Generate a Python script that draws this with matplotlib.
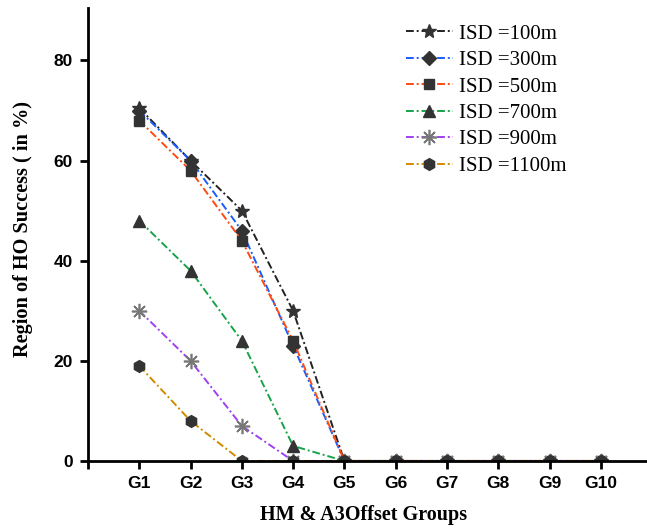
import matplotlib
matplotlib.use("Agg")
import matplotlib.pyplot as plt
import numpy as np

groups = ["G1", "G2", "G3", "G4", "G5", "G6", "G7", "G8", "G9", "G10"]
labels = ["ISD =100m", "ISD =300m", "ISD =500m", "ISD =700m", "ISD =900m", "ISD =1100m"]
isd100 = [70.5, 60, 50, 30, 0, 0, 0, 0, 0, 0]
isd300 = [70, 60, 46, 23, 0, 0, 0, 0, 0, 0]
isd500 = [68, 58, 44, 24, 0, 0, 0, 0, 0, 0]
isd700 = [48, 38, 24, 3, 0, 0, 0, 0, 0, 0]
isd900 = [30, 20, 7, 0, 0, 0, 0, 0, 0, 0]
isd1100 = [19, 8, 0, 0, 0, 0, 0, 0, 0, 0]
series = [isd100, isd300, isd500, isd700, isd900, isd1100]

colors = ["#222222", "#1a5cff", "#ff4a12", "#17a34a", "#a040f0", "#d08a00"]
markers = ["*", "D", "s", "^", (8, 2, 0), "h"]
msizes = [10, 7.5, 7, 8.5, 11, 8.5]

fig = plt.figure(figsize=(6.47, 5.28), dpi=100)
ax = fig.add_axes([0.136, 0.127, 0.864, 0.858])

x = np.arange(1, len(groups) + 1)
ls = (0, (4, 1.5, 1, 1.5))
for s, c, m, ms, lab in zip(series, colors, markers, msizes, labels):
    if m == (8, 2, 0):
        ax.plot(x, s, color=c, linestyle=ls, linewidth=1.4, marker=m, markersize=ms,
                markerfacecolor="#777777", markeredgecolor="#777777", markeredgewidth=1.2, label=lab)
    else:
        ax.plot(x, s, color=c, linestyle=ls, linewidth=1.4, marker=m, markersize=ms,
                markerfacecolor="#333333", markeredgecolor="#333333", label=lab)

ax.set_xlim(0, 10.9)
ax.set_ylim(0, 90.5)
ax.set_xticks(np.arange(0, 11))
ax.set_xticklabels([""] + groups)
ax.set_yticks([0, 20, 40, 60, 80])
for sp in ["top", "right"]:
    ax.spines[sp].set_visible(False)
for sp in ["left", "bottom"]:
    ax.spines[sp].set_linewidth(2)
ax.tick_params(axis="both", direction="out", length=6, width=2, labelsize=12.5, pad=5)
for t in ax.get_xticklabels() + ax.get_yticklabels():
    t.set_fontfamily("Liberation Sans")
    t.set_fontweight("bold")

ax.set_ylabel("Region of HO Success ( in %)", fontfamily="Liberation Serif",
              fontweight="bold", fontsize=14.6)
ax.yaxis.set_label_coords(-0.098, 0.512)
ax.set_xlabel("HM & A3Offset Groups", fontfamily="Liberation Serif",
              fontweight="bold", fontsize=14.5)
ax.xaxis.set_label_coords(0.493, -0.097)

leg = ax.legend(loc="upper left", bbox_to_anchor=(0.598, 0.990),
                bbox_transform=fig.transFigure, frameon=False,
                prop={"family": "Liberation Serif", "size": 15},
                handlelength=2.25, labelspacing=0.33, handletextpad=0.3)

fig.savefig("out.png", dpi=100)
